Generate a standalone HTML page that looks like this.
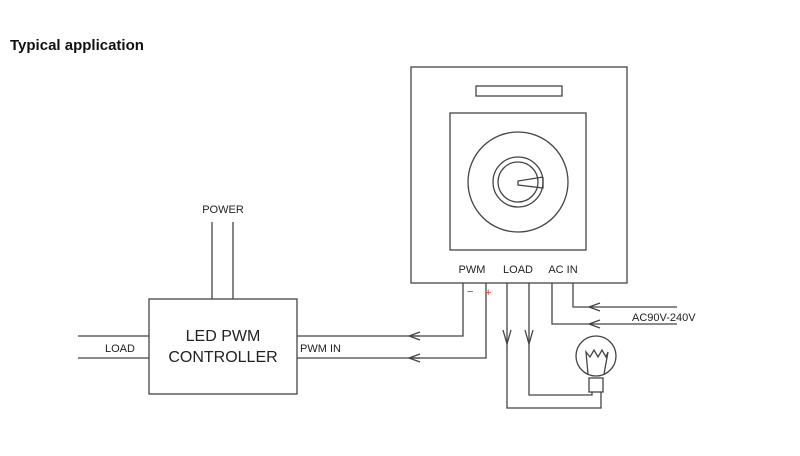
<!DOCTYPE html>
<html><head><style>body{margin:0;background:#fff}svg{display:block}</style></head><body>
<svg width="800" height="456" viewBox="0 0 800 456" xmlns="http://www.w3.org/2000/svg" font-family="Liberation Sans, sans-serif">
<text x="10" y="50" font-size="15" font-weight="bold" fill="#111">Typical application</text>
<g fill="none" stroke="#444" stroke-width="1.3">
<rect x="411" y="67" width="216" height="216"/>
<rect x="476" y="86" width="86" height="10"/>
<rect x="450" y="113" width="136" height="137"/>
<circle cx="518" cy="182" r="50"/>
<circle cx="518" cy="182" r="25"/>
<circle cx="518" cy="182" r="20"/>
<polyline points="543,177 543,188 518,185 518,181 543,177"/>
<rect x="149" y="299" width="148" height="95"/>
<line x1="212" y1="222" x2="212" y2="299"/><line x1="233" y1="222" x2="233" y2="299"/>
<line x1="78" y1="336" x2="149" y2="336"/><line x1="78" y1="358" x2="149" y2="358"/>
<polyline points="463,283 463,336 297,336"/>
<polyline points="486,283 486,358 297,358"/>
<polyline points="507,283 507,408 601,408 601,392"/>
<polyline points="529,283 529,395 592,395 592,392"/>
<polyline points="552,283 552,324 677,324"/>
<polyline points="573,283 573,307 677,307"/>
<path d="M420,332 L409,336 L420,340 M413,336 L420,336"/>
<path d="M420,354 L409,358 L420,362 M413,358 L420,358"/>
<path d="M600,320 L589,324 L600,328"/>
<path d="M600,303 L589,307 L600,311"/>
<path d="M503,330 L507,344 L511,330"/>
<path d="M525,330 L529,344 L533,330"/>
<circle cx="596" cy="356" r="20"/>
<rect x="589" y="378" width="14" height="14"/>
<path d="M588,374 L586,352 L590,357 L594,350 L598,357 L602,350 L606,357 L608,352 L604,374"/>
</g>
<g fill="#222" font-size="11">
<text x="472" y="273" text-anchor="middle">PWM</text>
<text x="518" y="273" text-anchor="middle">LOAD</text>
<text x="563" y="273" text-anchor="middle">AC IN</text>
<text x="632" y="321">AC90V-240V</text>
<text x="223" y="213" text-anchor="middle">POWER</text>
<text x="105" y="352">LOAD</text>
<text x="300" y="352">PWM IN</text>
<text x="223" y="341" text-anchor="middle" font-size="16">LED PWM</text>
<text x="223" y="362" text-anchor="middle" font-size="16">CONTROLLER</text>
</g>
<text x="467" y="295" font-size="11" fill="#555">−</text>
<text x="485" y="296" font-size="11" fill="#d33">+</text>
</svg>
</body></html>
